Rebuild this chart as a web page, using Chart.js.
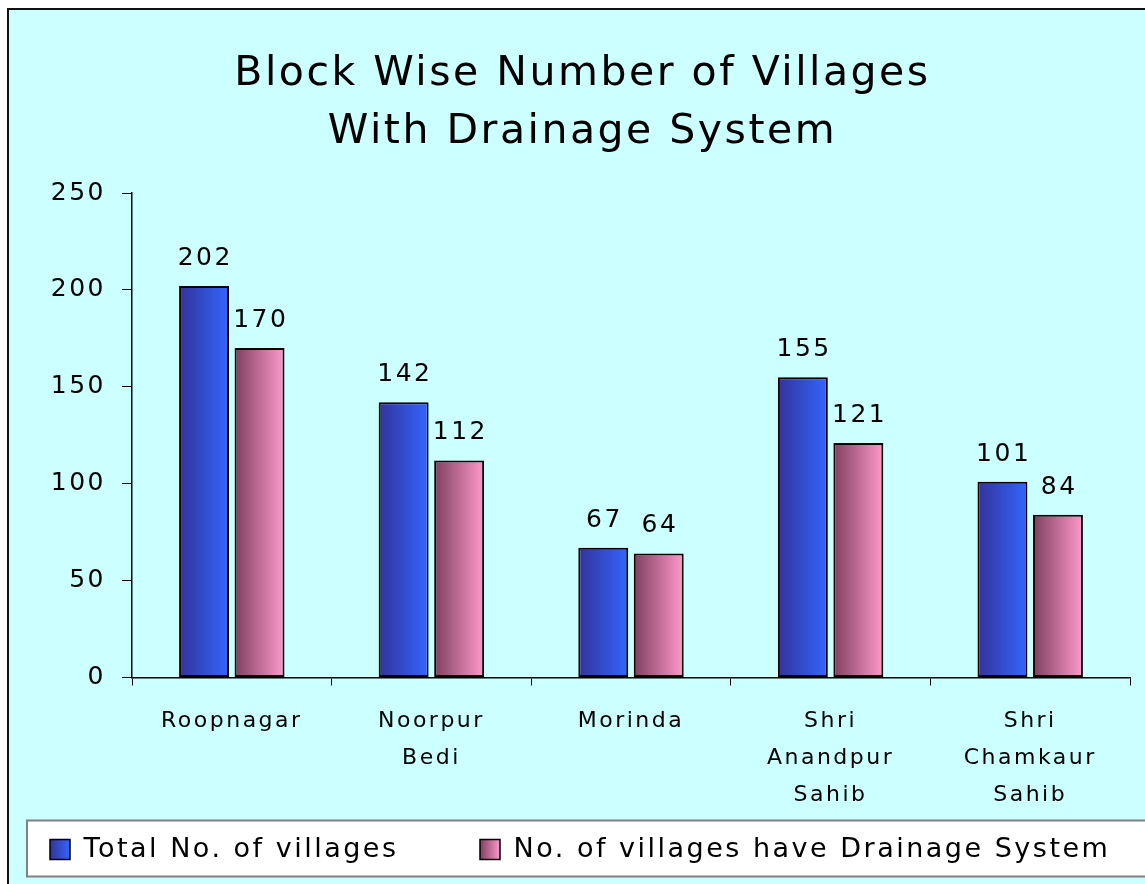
<!DOCTYPE html>
<html>
<head>
<meta charset="utf-8">
<title>Block Wise Number of Villages With Drainage System</title>
<script src="https://cdn.jsdelivr.net/npm/chart.js@4.4.1/dist/chart.umd.min.js"></script>
<style>
  html, body { margin: 0; padding: 0; background: #fff; overflow: hidden; }
  canvas { display: block; }
</style>
</head>
<body>
<canvas id="chart-drainage" width="1145" height="884"></canvas>
<script>
// chart data
var categories = ['Roopnagar', ['Noorpur', 'Bedi'], 'Morinda', ['Shri', 'Anandpur', 'Sahib'], ['Shri', 'Chamkaur', 'Sahib']];
var totalVillages = [202, 142, 67, 155, 101];
var drainageVillages = [170, 112, 64, 121, 84];
var seriesNames = ['Total No. of villages', 'No. of villages have Drainage System'];
var yMin = 0, yMax = 250, yStep = 50;

var FONT = '"DejaVu Sans", Verdana, sans-serif';
var SPACING = 2.5;          // the original text is set a bit loose
var CAT_PCT = 0.556, BAR_PCT = 0.9;
var gradColors = [['#333399', '#3366FF'], ['#7F3F5F', '#FF99CC']];

function makeGradient(ctx, x0, x1, pair) {
    if (!isFinite(x0) || !isFinite(x1) || x0 === x1) return pair[1];
    var g = ctx.createLinearGradient(x0, 0, x1, 0);
    g.addColorStop(0, pair[0]);
    g.addColorStop(1, pair[1]);
    return g;
}

// horizontal gradient across each bar, worked out from the category scale
function barFill(c) {
    var chart = c.chart;
    var xs = chart.scales.x;
    var pair = gradColors[c.datasetIndex];
    if (!xs || c.dataIndex === undefined || !xs.width) return pair[1];
    var slot = xs.width / categories.length * CAT_PCT / 2;
    var center = xs.getPixelForValue(c.dataIndex) + (c.datasetIndex - 0.5) * slot;
    var half = slot * BAR_PCT / 2;
    return makeGradient(chart.ctx, center - half, center + half, pair);
}

var framePlugin = {
    id: 'frame',
    beforeUpdate: function (chart) { chart.ctx.letterSpacing = SPACING + 'px'; },
    beforeDraw: function (chart) {
        var ctx = chart.ctx;
        ctx.letterSpacing = SPACING + 'px';
        ctx.save();
        ctx.fillStyle = '#fff';
        ctx.fillRect(0, 0, chart.width, chart.height);
        ctx.fillStyle = '#CCFFFF';
        ctx.fillRect(7, 8, chart.width, chart.height);
        ctx.strokeStyle = '#111';
        ctx.lineWidth = 2;
        ctx.beginPath();
        ctx.moveTo(8, chart.height);
        ctx.lineTo(8, 9);
        ctx.lineTo(chart.width, 9);
        ctx.stroke();
        // legend frame
        var lg = chart.legend;
        ctx.fillStyle = '#fff';
        ctx.fillRect(27, lg.top - 0.5, chart.width, 56);
        ctx.strokeStyle = '#808080';
        ctx.strokeRect(27, lg.top - 0.5, chart.width, 56);
        ctx.restore();
        // gradient swatches in the legend
        var bw = chart.options.plugins.legend.labels.boxWidth;
        (lg.legendItems || []).forEach(function (item, i) {
            var hb = lg.legendHitBoxes && lg.legendHitBoxes[i];
            if (hb) item.fillStyle = makeGradient(ctx, hb.left, hb.left + bw, gradColors[i]);
        });
    },
    afterDatasetsDraw: function (chart) {
        var ctx = chart.ctx;
        ctx.save();
        ctx.font = '25px ' + FONT;
        ctx.fillStyle = '#000';
        ctx.textAlign = 'center';
        ctx.textBaseline = 'alphabetic';
        ctx.letterSpacing = SPACING + 'px';
        chart.data.datasets.forEach(function (ds, i) {
            chart.getDatasetMeta(i).data.forEach(function (el, j) {
                ctx.fillText(String(ds.data[j]), el.x + SPACING / 2, el.y - 21);
            });
        });
        ctx.restore();
    }
};

var config = {
    type: 'bar',
    data: {
        labels: categories,
        datasets: [{
            label: seriesNames[0],
            data: totalVillages,
            backgroundColor: barFill,
            borderColor: '#000',
            borderWidth: 2,
            borderSkipped: false
        }, {
            label: seriesNames[1],
            data: drainageVillages,
            backgroundColor: barFill,
            borderColor: '#000',
            borderWidth: 2,
            borderSkipped: false
        }]
    },
    options: {
        responsive: false,
        animation: false,
        devicePixelRatio: 1,
        categoryPercentage: CAT_PCT,
        barPercentage: BAR_PCT,
        layout: { padding: { left: 35, right: 15, top: 0, bottom: 11 } },
        scales: {
            x: {
                grid: { drawOnChartArea: false, drawTicks: true, tickLength: 8, color: '#000', lineWidth: 1 },
                border: { color: '#000', width: 1.5 },
                ticks: { color: '#000', padding: 17, font: { family: FONT, size: 22, lineHeight: 1.68 }, maxRotation: 0, autoSkip: false },
                afterFit: function (scale) { scale.height = 143.5; }
            },
            y: {
                min: yMin,
                max: yMax,
                grid: { drawOnChartArea: false, drawTicks: true, tickLength: 10, color: '#000', lineWidth: 1 },
                border: { color: '#000', width: 1.5 },
                ticks: { stepSize: yStep, color: '#000', padding: 16, font: { family: FONT, size: 25 } },
                afterFit: function (scale) { scale.width = 97; }
            }
        },
        plugins: {
            title: {
                display: true,
                text: ['Block Wise Number of Villages', 'With Drainage System'],
                color: '#000',
                font: { family: FONT, size: 41, weight: 'normal', lineHeight: 1.415 },
                padding: { top: 45.5, bottom: 31.5 }
            },
            legend: {
                position: 'bottom',
                align: 'start',
                labels: {
                    color: '#000',
                    boxWidth: 20,
                    boxHeight: 20,
                    padding: 15,
                    font: { family: FONT, size: 27 },
                    generateLabels: function (chart) {
                        var items = Chart.defaults.plugins.legend.labels.generateLabels(chart);
                        items.forEach(function (it, i) {
                            it.strokeStyle = '#000';
                            it.lineWidth = 1.5;
                            if (i === 0) it.text = it.text + '      ';
                        });
                        return items;
                    }
                }
            },
            tooltip: { enabled: false }
        }
    },
    plugins: [framePlugin]
};

window.onload = function () {
    var ctx = document.getElementById('chart-drainage').getContext('2d');
    window.drainageChart = new Chart(ctx, config);
};
</script>
</body>
</html>
